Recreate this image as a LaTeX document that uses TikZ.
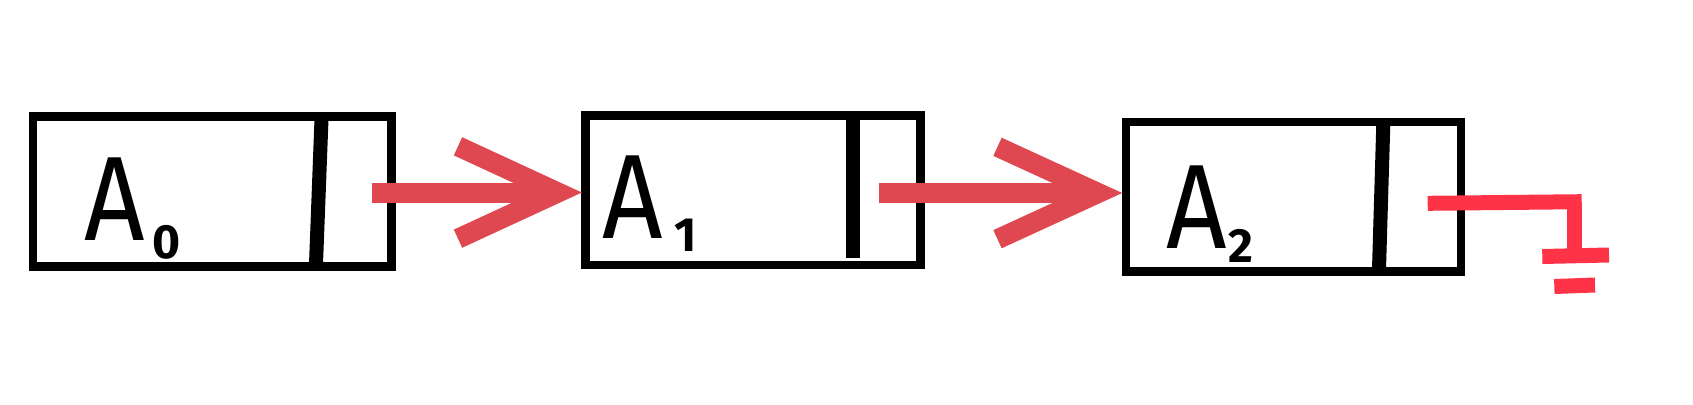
\documentclass[tikz,border=0pt]{standalone}
\usepackage{fontspec}
\setsansfont{Fira Sans}
\definecolor{arrowred}{RGB}{223,72,80}
\definecolor{groundred}{RGB}{255,51,71}
\begin{document}
\begin{tikzpicture}[x=1pt,y=-1pt,
  box/.style={draw=black,line width=8.5pt,rectangle,inner sep=0pt,outer sep=0pt},
  divider/.style={draw=black,line width=14pt},
  redarrow/.style={draw=arrowred,line width=20pt},
  redhead/.style={draw=arrowred,line width=20pt,miter limit=10},
  groundline/.style={draw=groundred,line width=15pt},
  lbl/.style={font=\sffamily\fontsize{120}{120}\selectfont,anchor=base west,inner sep=0pt,xscale=0.88},
  subs/.style={font=\sffamily\bfseries\fontsize{48}{48}\selectfont,anchor=base west,inner sep=0pt}]
\useasboundingbox (0,0) rectangle (1693,404);
% boxes
\node[box,minimum width=358.5pt,minimum height=149.8pt] (b0) at (212.25,191.6) {};
\node[box,minimum width=334.8pt,minimum height=149.3pt] (b1) at (752.9,190.15) {};
\node[box,minimum width=335pt,minimum height=149.1pt] (b2) at (1293.7,196.75) {};
% dividers
\draw[divider] (321.5,119) -- (316,264);
\draw[divider] (853,118) -- (853,258.3);
\draw[divider] (1383.3,124) -- (1379,269);
% labels
\node[lbl] (l0) at (84,240) {A};
\node[subs] (s0) at (152,258.3) {0};
\node[lbl] (l1) at (602,238) {A};
\node[subs] (s1) at (674,251.7) {1};
\node[lbl] (l2) at (1166,248) {A};
\node[subs] (s2) at (1228,262) {2};
% arrow A0 -> A1
\coordinate (a0s) at (371.7,192.5);
\coordinate (t1) at (a0s -| b1.west);
\coordinate (v1) at ([xshift=-27.5pt]t1);
\draw[redarrow] (a0s) -- (v1);
\draw[redhead] (458,146.3) -- (v1) -- (458,238.7);
% arrow A1 -> A2
\coordinate (a1s) at (879,193);
\coordinate (t2) at (a1s -| b2.west);
\coordinate (v2) at ([xshift=-28pt]t2);
\draw[redarrow] (a1s) -- (v2);
\draw[redhead] (997.5,146.8) -- (v2) -- (997.5,239.2);
% ground (null pointer)
\coordinate (g0) at (1427.7,203.3);
\coordinate (g1) at (1581.7,201.7);
\coordinate (g2) at (1574.2,201.7);
\coordinate (g3) at (1574.2,256);
\draw[groundline] (g0) -- (g1);
\draw[groundline] (g2) -- (g3);
\draw[groundline] (1542.3,256.5) -- (1609,255);
\draw[groundline] (1554.3,286.5) -- (1595,285);
\end{tikzpicture}
\end{document}
